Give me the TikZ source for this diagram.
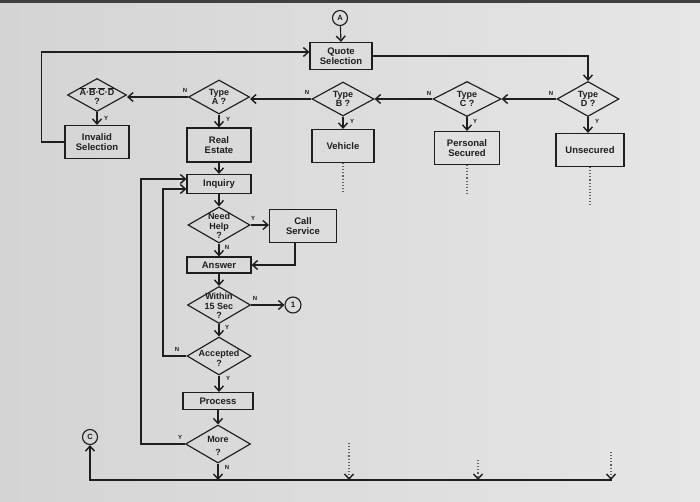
\documentclass[tikz,border=0pt]{standalone}
\usepackage{fontspec}
\setmainfont{Liberation Sans}
\usetikzlibrary{shapes.geometric,arrows.meta,calc}
\definecolor{ink}{HTML}{1E1E1E}
\definecolor{bgl}{HTML}{D4D4D4}
\definecolor{bgr}{HTML}{E6E6E6}
\newcommand\ovl[1]{$\overline{\hbox{#1}}$}
\tikzset{
  lw/.style={line width=1.15pt, draw=ink},
  box/.style={lw, rectangle, inner sep=0pt, align=center, text=ink,
     font=\fontsize{9.5}{10.5}\selectfont\bfseries},
  dia/.style={lw, diamond, inner sep=0pt},
  dtxt/.style={align=center, text=ink, font=\fontsize{9}{9.5}\selectfont\bfseries},
  circ/.style={lw, circle, inner sep=0pt, minimum size=15pt, text=ink,
     font=\fontsize{7.5}{8}\selectfont\bfseries},
  tip/.style={-{Straight Barb[length=5pt,width=9pt,line width=1.4pt]}},
  arr/.style={lw, tip},
  dotl/.style={draw=ink!70, line width=1.1pt, dotted},
  dotarr/.style={draw=ink!70, line width=1.1pt, dotted, -{Straight Barb[length=5pt,width=9pt,line width=1.4pt,color=ink]}},
  yn/.style={inner sep=0pt, text=ink, font=\fontsize{6}{6}\selectfont\bfseries}
}
\begin{document}
\begin{tikzpicture}[x=1pt,y=-1pt]
\useasboundingbox (0,0) rectangle (700,502);
\shade[left color=bgl, right color=bgr] (0,0) rectangle (700,502);
\fill[ink!85] (0,0) rectangle (700,3);

% nodes
\node[circ] (cA) at (340,18) {A};
\node[box, minimum width=62pt, minimum height=27pt] (qs) at (341,56) {Quote\\[-1pt]Selection};

\node[dia, minimum width=62pt, minimum height=35pt] (tD) at (588,99) {};
\node[dtxt] (tDt) at (588,99) {Type\\D ?};
\node[dia, minimum width=68pt, minimum height=35pt] (tC) at (467,99) {};
\node[dtxt] (tCt) at (467,99) {Type\\C ?};
\node[dia, minimum width=62pt, minimum height=34pt] (tB) at (343,99) {};
\node[dtxt] (tBt) at (343,99) {Type\\B ?};
\node[dia, minimum width=61pt, minimum height=34pt] (tA) at (219,97) {};
\node[dtxt] (tAt) at (219,97) {Type\\A ?};
\node[dia, minimum width=59pt, minimum height=33pt] (abcd) at (97,95) {};
\node[dtxt] (abcdt) at (97,96) {\ovl{A}·\ovl{B}·\ovl{C}·\ovl{D}\\?};

\node[box, minimum width=64pt, minimum height=33pt] (inv) at (97,142) {Invalid\\[-1pt]Selection};
\node[box, minimum width=64pt, minimum height=34pt] (re) at (219,145) {Real\\[-1pt]Estate};
\node[box, minimum width=62pt, minimum height=33pt] (veh) at (343,146) {Vehicle};
\node[box, minimum width=65pt, minimum height=33pt] (ps) at (467,148) {Personal\\[-1pt]Secured};
\node[box, minimum width=68pt, minimum height=33pt] (uns) at (590,150) {Unsecured};

\node[box, minimum width=64pt, minimum height=19pt] (inq) at (219,184) {Inquiry};
\node[dia, minimum width=62pt, minimum height=36pt] (nh) at (219,225) {};
\node[dtxt] (nht) at (219,226) {Need\\Help\\?};
\node[box, minimum width=67pt, minimum height=33pt] (cs) at (303,226) {Call\\[-1pt]Service};
\node[box, minimum width=64pt, minimum height=16pt] (ans) at (219,265) {Answer};
\node[dia, minimum width=63pt, minimum height=37pt] (w15) at (219,305) {};
\node[dtxt] (w15t) at (219,306) {Within\\15 Sec\\?};
\node[circ, minimum size=16pt, font=\fontsize{8}{8}\selectfont\bfseries] (c1) at (293,305) {1};
\node[dia, minimum width=64pt, minimum height=38pt] (acc) at (219,356) {};
\node[dtxt] (acct) at (219,358) {Accepted\\[1pt]?};
\node[box, minimum width=70pt, minimum height=17pt] (proc) at (218,401) {Process};
\node[dia, minimum width=65pt, minimum height=38pt] (more) at (218,444) {};
\node[dtxt] (moret) at (218,446) {More\\[4pt]?};
\node[circ] (cC) at (90,437) {C};

% helper coordinates
\coordinate (lo) at (141,444);
\coordinate (li) at (163,356);
\coordinate (mb) at (218,480);
\coordinate (br) at (612,480);
\coordinate (bl) at (90,480);
\coordinate (d1a) at (349,443);
\coordinate (d1b) at (349,480);
\coordinate (d2a) at (478,460);
\coordinate (d2b) at (478,480);
\coordinate (d3a) at (611,452);
\coordinate (d3b) at (611,480);

% connectors
\draw[arr] (cA) -- (qs.north);
\draw[arr] (qs.east) -| (tD.north);
\draw[arr] (inv.west) -- ++(-23,0) |- ([yshift=4pt]qs.west);
\draw[arr] (tD.west) -- (tC.east);
\draw[arr] (tC.west) -- (tB.east);
\draw[arr] (tB.west) -- (tA.east |- tB.west);
\draw[arr] (tA.west) -- (abcd.east |- tA.west);
\draw[arr] (abcd.south) -- (inv.north);
\draw[arr] (tA.south) -- (re.north);
\draw[arr] (tB.south) -- (veh.north);
\draw[arr] (tC.south) -- (ps.north);
\draw[arr] (tD.south) -- (tD.south |- uns.north);
\draw[arr] (re.south) -- (inq.north);
\draw[arr] (inq.south) -- (nh.north);
\draw[arr] (nh.east) -- (cs.west |- nh.east);
\draw[arr] (nh.south) -- (ans.north);
\draw[arr] ([xshift=-8pt]cs.south) |- (ans.east);
\draw[arr] (ans.south) -- (w15.north);
\draw[arr] (w15.east) -- (c1.west);
\draw[arr] (w15.south) -- (acc.north);
\draw[arr] (acc.south) -- (acc.south |- proc.north);
\draw[arr] (proc.south) -- (more.north);
\draw[arr] (more.south) -- (mb);
\draw[arr] (acc.west) -- (li) |- ([yshift=-5pt]inq.west);
\draw[arr] (more.west) -- (lo) |- ([yshift=5pt]inq.west);
\draw[arr] (br) -- (bl) -- (cC.south);

\draw[dotl] (veh.south) -- ++(0,28);
\draw[dotl] (ps.south) -- ++(0,28);
\draw[dotl] (uns.south) -- ++(0,38);
\draw[dotarr] (d1a) -- (d1b);
\draw[dotarr] (d2a) -- (d2b);
\draw[dotarr] (d3a) -- (d3b);

% Y / N labels
\node[yn] (nD) at (551,93) {N};
\node[yn] (nC) at (429,93) {N};
\node[yn] (nB) at (307,92) {N};
\node[yn] (nA) at (185,90) {N};
\node[yn] (yABCD) at (106,118) {Y};
\node[yn] (yA) at (228,119) {Y};
\node[yn] (yB) at (352,121) {Y};
\node[yn] (yC) at (475,121) {Y};
\node[yn] (yD) at (597,121) {Y};
\node[yn] (yNH) at (253,218) {Y};
\node[yn] (nNH) at (227,247) {N};
\node[yn] (nW) at (255,298) {N};
\node[yn] (yW) at (227,327) {Y};
\node[yn] (nAc) at (177,349) {N};
\node[yn] (yAc) at (228,378) {Y};
\node[yn] (yM) at (180,437) {Y};
\node[yn] (nM) at (227,467) {N};
\end{tikzpicture}
\end{document}
